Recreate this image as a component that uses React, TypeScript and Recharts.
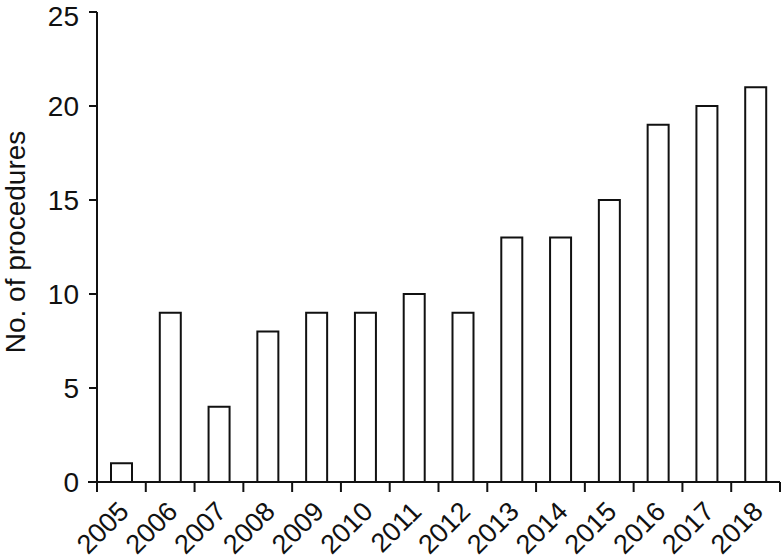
import { BarChart, Bar, XAxis, YAxis } from 'recharts'

const years = ['2005', '2006', '2007', '2008', '2009', '2010', '2011', '2012', '2013', '2014', '2015', '2016', '2017', '2018']
const procedures = [1, 9, 4, 8, 9, 9, 10, 9, 13, 13, 15, 19, 20, 21]
const yTicks = [0, 5, 10, 15, 20, 25]

const data = years.map((year, i) => ({ year, count: procedures[i] }))

const CHART_W = 782
const CHART_H = 560
const MARGIN = { top: 12, right: 2, bottom: 0, left: 0 }
const Y_AXIS_W = 97
const BAND = (CHART_W - MARGIN.left - MARGIN.right - Y_AXIS_W) / years.length
const INK = '#111'
const FONT = '"Liberation Sans", Arial, sans-serif'

function YearTick(props: any) {
  const { x, y, payload, index } = props
  const half = BAND / 2
  const left = x - half
  const tx = x + 9
  const ty = y + 31
  return (
    <g>
      <line x1={left} y1={y} x2={left} y2={y + 10} stroke={INK} strokeWidth={2} />
      {index === 0 && <line x1={left - 9} y1={y} x2={left} y2={y} stroke={INK} strokeWidth={2} />}
      {index === years.length - 1 && (
        <line x1={x + half} y1={y} x2={x + half} y2={y + 10} stroke={INK} strokeWidth={2} />
      )}
      <text
        x={tx}
        y={ty}
        transform={`rotate(-45, ${tx}, ${ty})`}
        textAnchor="end"
        style={{ fontSize: 27, fontFamily: FONT }}
        fill={INK}
      >
        {payload.value}
      </text>
    </g>
  )
}

function YLabel(props: any) {
  const { viewBox } = props
  const cx = 25
  const cy = viewBox.y + viewBox.height / 2 - 5
  return (
    <text
      x={cx}
      y={cy}
      transform={`rotate(-90, ${cx}, ${cy})`}
      textAnchor="middle"
      style={{ fontSize: 28, fontFamily: FONT }}
      fill={INK}
    >
      No. of procedures
    </text>
  )
}

export default function App() {
  return (
    <div style={{ width: CHART_W, height: CHART_H, background: '#fff', position: 'absolute', left: 0, top: 0 }}>
      <BarChart width={CHART_W} height={CHART_H} data={data} margin={MARGIN} barSize={21}>
        <XAxis
          dataKey="year"
          height={CHART_H - MARGIN.top - 470}
          axisLine={{ stroke: INK, strokeWidth: 2 }}
          tickLine={false}
          tickSize={0}
          tickMargin={0}
          interval={0}
          tick={<YearTick />}
        />
        <YAxis
          width={Y_AXIS_W}
          domain={[0, 25]}
          ticks={yTicks}
          axisLine={{ stroke: INK, strokeWidth: 2 }}
          tickLine={{ stroke: INK, strokeWidth: 2 }}
          tickSize={8}
          tickMargin={10}
          tick={{ fontSize: 28, fill: INK, fontFamily: FONT }}
          label={<YLabel />}
        />
        <Bar dataKey="count" fill="#fff" stroke={INK} strokeWidth={2} isAnimationActive={false} />
      </BarChart>
    </div>
  )
}
